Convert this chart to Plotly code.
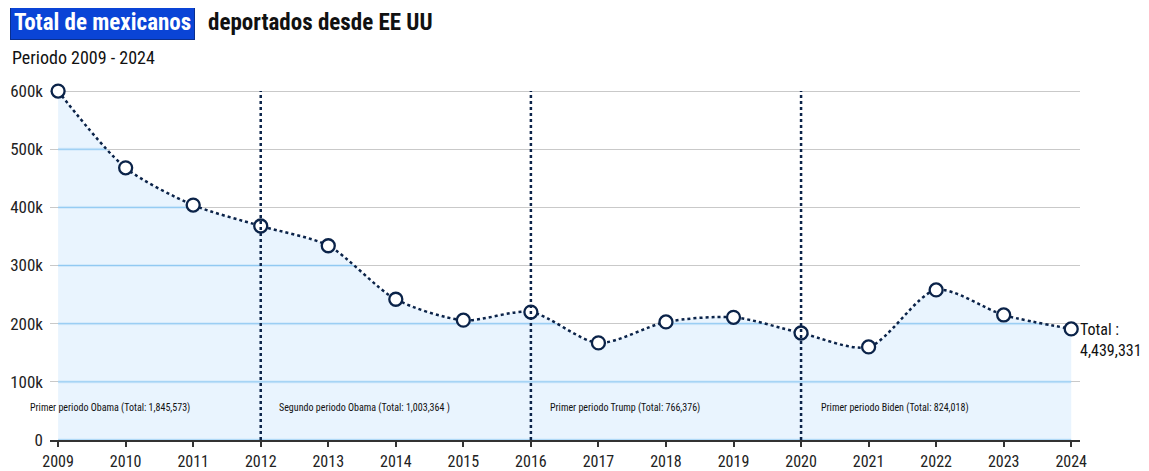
import plotly.graph_objects as go

years = list(range(2009, 2025))
deportados = [600000, 468000, 404000, 368000, 334000, 242000, 206000, 220000,
              167000, 203000, 211000, 184000, 160000, 258000, 215000, 191000]

ytick_vals = [0, 100000, 200000, 300000, 400000, 500000, 600000]
ytick_text = ["0", "100k", "200k", "300k", "400k", "500k", "600k"]

period_breaks = [2012, 2016, 2020]
period_label_x = [2009, 2012, 2016, 2020]
period_label_shift = [-30, 16, 17, 18]
period_labels = [
    "Primer periodo Obama (Total: 1,845,573)",
    "Segundo periodo Obama (Total: 1,003,364 )",
    "Primer periodo Trump (Total: 766,376)",
    "Primer periodo Biden (Total: 824,018)",
]
total_text = "Total :<br>4,439,331"

FONT = "Liberation Sans Narrow, Roboto Condensed, Roboto, Arial, sans-serif"
NAVY = "#0b2349"

PLOT_H = 378           # plot area height in px (range 0..650k)
STEP_PX = PLOT_H / 6.5  # px per 100k, used for the grid pattern inside the area

fig = go.Figure()
fig.add_trace(go.Scatter(
    x=years, y=deportados, mode="lines+markers",
    line=dict(color=NAVY, width=2.5, dash="dot", shape="spline", smoothing=0.8),
    marker=dict(size=13, color="white", line=dict(color=NAVY, width=2.3)),
    fill="tozeroy", fillcolor="#e9f4fe",
    fillpattern=dict(shape="-", size=STEP_PX, solidity=0.022,
                     fgcolor="#8ec8f2", bgcolor="#e9f4fe", fgopacity=1),
    cliponaxis=False, hoverinfo="x+y",
))

for xb in period_breaks:
    fig.add_shape(type="line", xref="x", yref="y", x0=xb, x1=xb, y0=0, y1=600000,
                  line=dict(color=NAVY, width=2.5, dash="dot"), layer="above")

for xl, sh, txt in zip(period_label_x, period_label_shift, period_labels):
    fig.add_annotation(x=xl, y=55000, xref="x", yref="y", text=txt, showarrow=False,
                       xanchor="left", yanchor="middle", xshift=sh,
                       font=dict(family=FONT, size=10, color="#111"))

fig.add_annotation(x=years[-1], y=deportados[-1], xref="x", yref="y", text=total_text,
                   showarrow=False, xanchor="left", yanchor="top", align="left",
                   xshift=7, yshift=11,
                   font=dict(family=FONT, size=16, color="#111"))

# Title
fig.add_annotation(x=-0.0385, y=1.1053, xref="paper", yref="paper",
                   text="<b>Total de mexicanos</b>", showarrow=False,
                   xanchor="left", yanchor="middle",
                   bgcolor="#0a44d6", bordercolor="#0a2f8f", borderwidth=1, borderpad=3,
                   font=dict(family=FONT, size=23, color="white"))
fig.add_annotation(x=0.1515, y=1.1053, xref="paper", yref="paper",
                   text="<b>deportados desde EE UU</b>", showarrow=False,
                   xanchor="left", yanchor="middle",
                   font=dict(family=FONT, size=23, color="#111"))
fig.add_annotation(x=-0.0385, y=1.0128, xref="paper", yref="paper",
                   text="Periodo 2009 - 2024", showarrow=False,
                   xanchor="left", yanchor="middle",
                   font=dict(family=FONT, size=18, color="#111"))

# page body has an 8px margin in the browser, so the figure is sized to fit
fig.update_layout(
    width=1141, height=463,
    margin=dict(l=42, r=69, t=54, b=463 - 54 - PLOT_H),
    plot_bgcolor="white", paper_bgcolor="white",
    showlegend=False,
    font=dict(family=FONT, color="#222"),
    xaxis=dict(range=[2008.88, 2024.13], tickmode="array", tickvals=years,
               ticktext=[str(y) for y in years], showgrid=False, automargin=False,
               showline=True, linecolor="#333", linewidth=1.5,
               ticks="outside", ticklen=5, tickcolor="#333", tickwidth=1.5,
               ticklabelstandoff=1,
               tickfont=dict(size=16, color="#222"), zeroline=False),
    yaxis=dict(range=[0, 650000], tickmode="array", tickvals=ytick_vals,
               ticktext=ytick_text, showgrid=True, gridcolor="#c9c9c9", gridwidth=1,
               zeroline=False, showline=False, ticks="", automargin=False,
               ticklabelstandoff=6,
               tickfont=dict(size=17, color="#222")),
)

fig.write_html("out.html")
